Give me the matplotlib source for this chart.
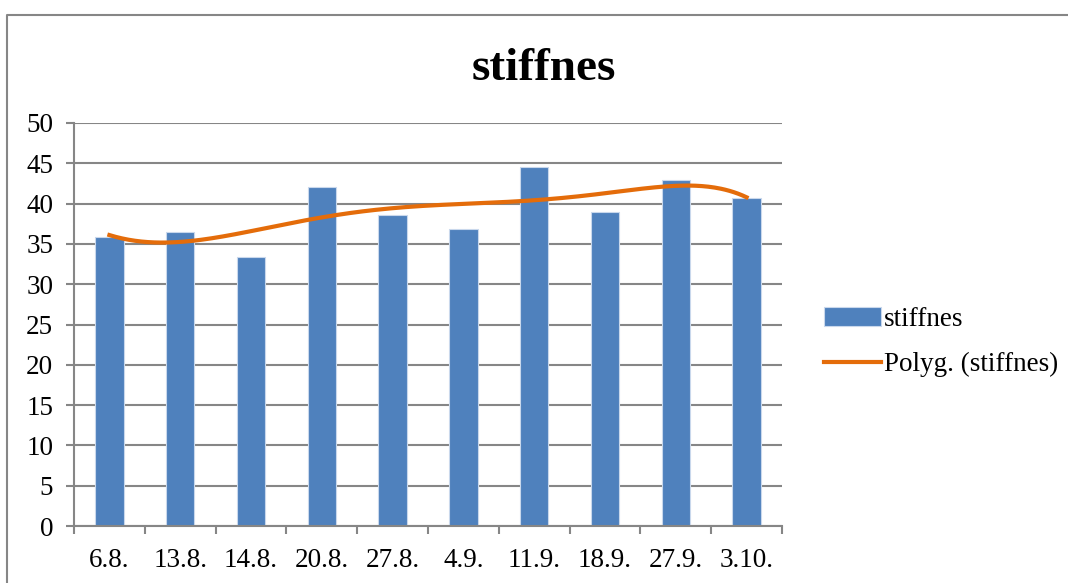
import numpy as np
import matplotlib.pyplot as plt
from matplotlib.lines import Line2D

# stiffness measurements by date
dates = ["6.8.", "13.8.", "14.8.", "20.8.", "27.8.", "4.9.", "11.9.", "18.9.", "27.9.", "3.10."]
stiffnes = [35.9, 36.5, 33.4, 42.0, 38.6, 36.9, 44.5, 38.9, 42.9, 40.7]
trend_order = 6

plt.rcParams['font.family'] = ['Liberation Serif', 'DejaVu Serif']

fig = plt.figure(figsize=(10.68, 5.83), dpi=100)
ax = fig.add_axes([74/1068, 1 - 526/583, (782 - 74)/1068, (526 - 123)/583])

x = np.arange(1, len(dates) + 1)
bars = ax.bar(x, stiffnes, width=0.4, color='#4f81bd', edgecolor='#c9d8ec', linewidth=0.8,
              label='stiffnes', zorder=2)

# polynomial trendline fitted to the measurements
coef = np.polyfit(x, stiffnes, trend_order)
xs = np.linspace(1, len(dates), 300)
trend, = ax.plot(xs, np.polyval(coef, xs), color='#e46c0a', linewidth=3,
                 label='Polyg. (stiffnes)', zorder=3)

ax.set_xlim(0.5, len(dates) + 0.5)
ax.set_ylim(0, 50)
ax.set_yticks(range(0, 51, 5))
ax.set_xticks(x)
ax.set_xticklabels(dates)
ax.set_xticks(np.arange(0.5, len(dates) + 1, 1), minor=True)

grid_col = '#868686'
ax.yaxis.grid(True, color=grid_col, linewidth=1.5, zorder=0)
ax.set_axisbelow(True)
for side in ['top', 'right']:
    ax.spines[side].set_visible(False)
for side in ['left', 'bottom']:
    ax.spines[side].set_color(grid_col)
    ax.spines[side].set_linewidth(1.5)

ax.tick_params(axis='y', length=6, width=1.5, color=grid_col, pad=9, labelsize=19.5)
ax.tick_params(axis='x', which='major', length=0, pad=16, labelsize=19.5)
ax.tick_params(axis='x', which='minor', length=6, width=1.5, color=grid_col)

fig.text(544/1068, 1 - 80/583, "stiffnes", ha='center', va='baseline',
         fontsize=34, fontweight='bold')

fig.legend(handles=[bars, trend], loc='center left', bbox_to_anchor=(800/1068, 1 - 342/583),
           frameon=False, fontsize=19.5, handlelength=2.1, handletextpad=0.1,
           labelspacing=0.75)

# outer chart border
fig.add_artist(Line2D([7/1068, 7/1068, 1.2], [-0.2, 1 - 15/583, 1 - 15/583],
                      color=grid_col, linewidth=1.5))

fig.savefig("out.png", dpi=100)
